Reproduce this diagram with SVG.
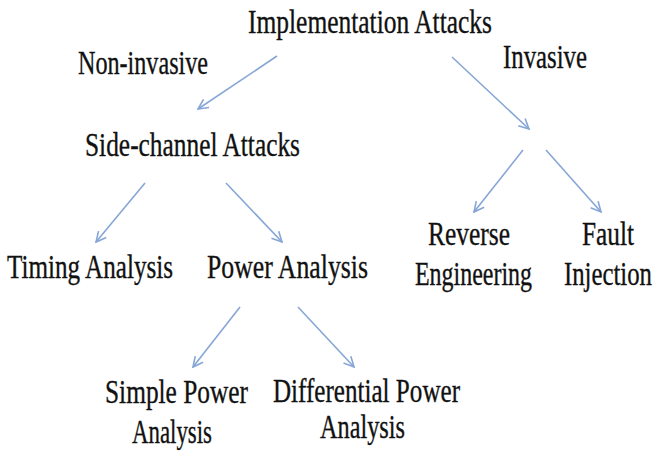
<svg xmlns="http://www.w3.org/2000/svg" width="656" height="459" viewBox="0 0 656 459">
  <defs>
    <style>
      text { font-family: "Liberation Serif", "Times New Roman", serif; font-size: 34px; fill: #111; stroke: #111; stroke-width: 0.35px; }
      .edge { stroke: #86a6d6; stroke-width: 1.6; fill: none; marker-end: url(#vhead); }
    </style>
    <marker id="vhead" viewBox="0 0 12 12" refX="11" refY="6" markerWidth="12" markerHeight="12" markerUnits="userSpaceOnUse" orient="auto">
      <path d="M1,1 L11,6 L1,11" fill="none" stroke="#86a6d6" stroke-width="1.6"/>
    </marker>
  </defs>
  <rect width="656" height="459" fill="#ffffff"/>

  <g id="connectors">
    <line class="edge" x1="277" y1="56" x2="198" y2="109"/>
    <line class="edge" x1="452" y1="57" x2="529" y2="129"/>
    <line class="edge" x1="523" y1="150" x2="474" y2="212"/>
    <line class="edge" x1="546" y1="150" x2="601" y2="212"/>
    <line class="edge" x1="145" y1="183" x2="96" y2="242"/>
    <line class="edge" x1="226" y1="183" x2="282" y2="242"/>
    <line class="edge" x1="240" y1="307" x2="193" y2="367"/>
    <line class="edge" x1="298" y1="307" x2="354" y2="367"/>
  </g>

  <!-- labels: serif face, condensed horizontally to fixed widths -->
  <g id="implementation-attacks">
    <text x="248" y="33" textLength="244" lengthAdjust="spacingAndGlyphs">Implementation Attacks</text>
  </g>
  <g id="non-invasive">
    <text x="78" y="74" textLength="130" lengthAdjust="spacingAndGlyphs">Non-invasive</text>
  </g>
  <g id="invasive">
    <text x="503" y="68" textLength="84" lengthAdjust="spacingAndGlyphs">Invasive</text>
  </g>
  <g id="side-channel-attacks">
    <text x="85" y="156" textLength="215" lengthAdjust="spacingAndGlyphs">Side-channel Attacks</text>
  </g>
  <g id="timing-analysis">
    <text x="7" y="278" textLength="166" lengthAdjust="spacingAndGlyphs">Timing Analysis</text>
  </g>
  <g id="power-analysis">
    <text x="207" y="278" textLength="161" lengthAdjust="spacingAndGlyphs">Power Analysis</text>
  </g>
  <g id="reverse-engineering">
    <text x="428" y="245" textLength="82" lengthAdjust="spacingAndGlyphs">Reverse</text>
    <text x="415" y="285" textLength="117" lengthAdjust="spacingAndGlyphs">Engineering</text>
  </g>
  <g id="fault-injection">
    <text x="582" y="245" textLength="52" lengthAdjust="spacingAndGlyphs">Fault</text>
    <text x="564" y="285" textLength="88" lengthAdjust="spacingAndGlyphs">Injection</text>
  </g>
  <g id="simple-power-analysis">
    <text x="105" y="403" textLength="143" lengthAdjust="spacingAndGlyphs">Simple Power</text>
    <text x="132" y="443" textLength="80" lengthAdjust="spacingAndGlyphs">Analysis</text>
  </g>
  <g id="differential-power-analysis">
    <text x="273" y="402" textLength="187" lengthAdjust="spacingAndGlyphs">Differential Power</text>
    <text x="320" y="438" textLength="85" lengthAdjust="spacingAndGlyphs">Analysis</text>
  </g>
</svg>
